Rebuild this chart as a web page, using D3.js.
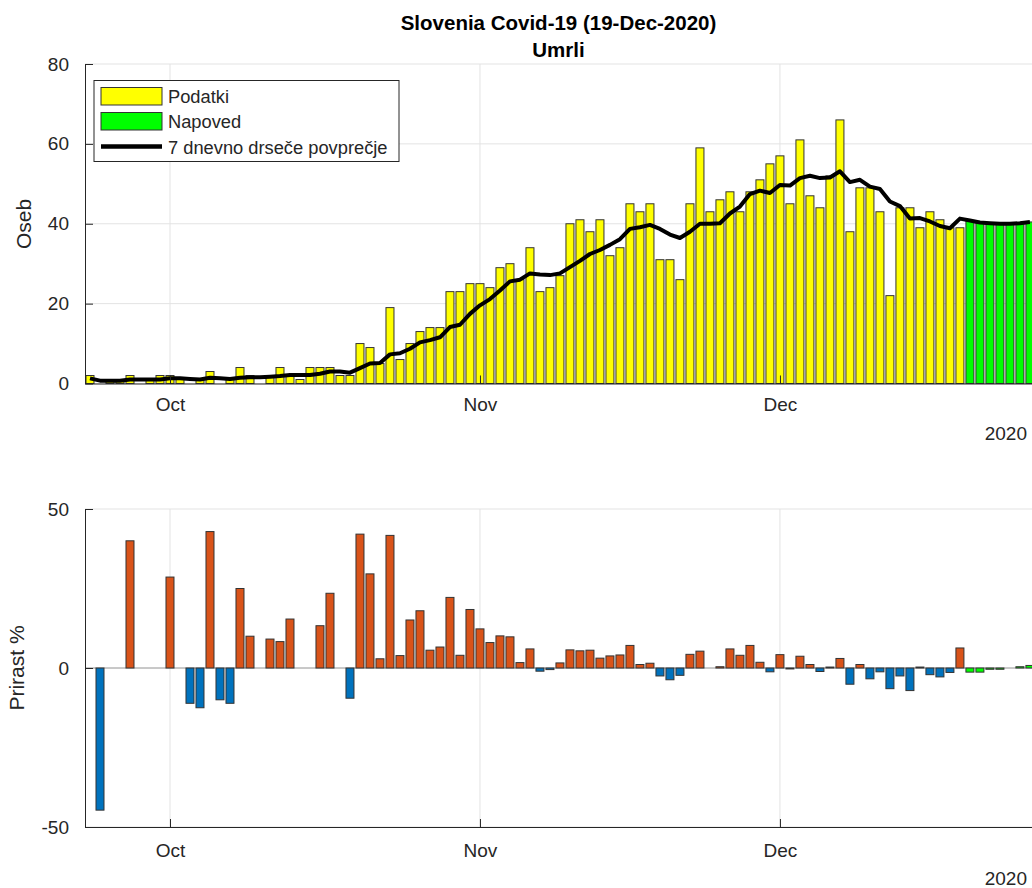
<!DOCTYPE html>
<html><head><meta charset="utf-8">
<script src="https://cdn.jsdelivr.net/npm/d3@7"></script>
<style>
body{margin:0;background:#fff}
svg{font-family:"Liberation Sans",Arial,Helvetica,sans-serif}
</style>
</head><body>
<svg id="c" width="1032" height="888"></svg>
<script>
// ---- data ----
const firstDay = Date.UTC(2020, 8, 23);           // 23-Sep-2020
const deaths = [2,0,1,1,2,0,1,2,2,1, 0,1,3,0,1,4,2,0,2,4, 2,1,4,4,4,2,2,10,9,5,
  19,6,10,13,14,14,23,23,25,25, 24,29,30,26,34,23,24,27,40,41, 38,41,32,34,45,43,45,31,31,26,
  45,59,43,46,48,43,48,51,55,57, 45,61,47,44,52,66,38,49,49,43, 22,44,44,39,43,41,39,39];
const forecast = [40.8,40.3,40.15,40.0,40.0,40.15,40.45];
const avg7 = [1.29,0.71,0.71,0.71,1.0,1.0,1.0,
  1.00,1.29,1.29,1.14,1.00,1.43,1.29,1.14,1.43,1.57,1.57,1.71,1.86,2.14,2.14,2.14,2.43,3.00,3.00,2.71,3.86,
  5.00,5.14,7.29,7.57,8.71,10.29,10.86,11.57,14.14,14.71,17.43,19.57,21.14,23.29,25.57,26.00,27.57,27.29,
  27.14,27.57,29.14,30.71,32.43,33.43,34.71,36.14,38.71,39.14,39.71,38.71,37.29,36.43,38.00,40.00,40.00,
  40.14,42.57,44.29,47.43,48.29,47.71,49.71,49.57,51.43,52.00,51.43,51.57,53.14,50.43,51.00,49.29,48.71,
  45.57,44.43,41.29,41.43,40.57,39.43,38.86,41.29,
  40.8,40.3,40.15,40.0,40.0,40.15,40.45];
const growth = [null,-44.7,0,0,40.0,0,0,0,28.6,0, -11.1,-12.5,42.9,-10.0,-11.1,25.0,10.0,0,9.1,8.3,
  15.4,0,0,13.3,23.5,0,-9.5,42.1,29.6,2.9, 41.7,3.9,15.1,18.0,5.6,6.6,22.2,4.0,18.4,12.3,
  8.0,10.1,9.8,1.7,6.0,-1.0,-0.5,1.6,5.7,5.4, 5.6,3.1,3.8,4.1,7.1,1.1,1.5,-2.5,-3.7,-2.3,
  4.3,5.3,0,0.4,6.0,4.0,7.1,1.8,-1.2,4.2, -0.3,3.7,1.1,-1.1,0.3,3.0,-5.1,1.1,-3.4,-1.2,
  -6.5,-2.5,-7.1,0.3,-2.1,-2.8,-1.4,6.3];
const growthForecast = [-1.3,-1.3,-0.4,-0.4,0,0.4,0.8];
const yTicksTop = [0,20,40,60,80];
const yTicksBot = [-50,0,50];
const monthTicks = [Date.UTC(2020,9,1), Date.UTC(2020,10,1), Date.UTC(2020,11,1)];
const legendLabels = ["Podatki","Napoved","7 dnevno drseče povprečje"];
const titleLines = ["Slovenia Covid-19 (19-Dec-2020)","Umrli"];

// ---- setup ----
const DAY = 864e5;
const dayAt = i => new Date(firstDay + i*DAY);
const svg = d3.select("#c");
const L = 85, R = 1032;
const x = d3.scaleUtc().domain([new Date(Date.UTC(2020,8,22,12)), new Date(Date.UTC(2020,11,26,5))]).range([L, R]);
const bw = x(dayAt(0.8)) - x(dayAt(0));
const yT = d3.scaleLinear().domain([0,80]).range([383.5,64]);
const yB = d3.scaleLinear().domain([-50,50]).range([827,509]);
const axCol = "#262626", gridCol = "#e3e3e3";
const tickFont = 19;
const plainFmt = d => String(d);

svg.append("defs").append("clipPath").attr("id","clipT").append("rect")
  .attr("x",L).attr("y",60).attr("width",R-L).attr("height",330);
svg.select("defs").append("clipPath").attr("id","clipB").append("rect")
  .attr("x",L).attr("y",505).attr("width",R-L).attr("height",325);

function grid(yScale, yticks, top, bottom){
  const g = svg.append("g");
  g.selectAll(".gy").data(yticks).join("line")
    .attr("x1",L).attr("x2",R).attr("y1",d=>yScale(d)).attr("y2",d=>yScale(d))
    .attr("stroke",gridCol).attr("stroke-width",1);
  g.selectAll(".gx").data(monthTicks).join("line")
    .attr("x1",d=>x(new Date(d))).attr("x2",d=>x(new Date(d))).attr("y1",top).attr("y2",bottom)
    .attr("stroke",gridCol).attr("stroke-width",1);
}
function axes(yScale, yticks, bottomY, xPad){
  const ya = svg.append("g").attr("transform",`translate(${L},0)`)
    .call(d3.axisLeft(yScale).tickValues(yticks).tickFormat(plainFmt).tickSize(-8).tickSizeOuter(0).tickPadding(16));
  const xa = svg.append("g").attr("transform",`translate(0,${bottomY})`)
    .call(d3.axisBottom(x).tickValues(monthTicks.map(d=>new Date(d))).tickFormat(d3.utcFormat("%b"))
      .tickSize(-8).tickSizeOuter(0).tickPadding(xPad));
  [ya,xa].forEach(a=>{
    a.selectAll("path").attr("stroke",axCol).attr("stroke-width",1);
    a.selectAll("line").attr("stroke",axCol);
    a.selectAll("text").attr("fill",axCol).style("font-size",tickFont+"px").style("font-family","inherit");
  });
}

// ---- top panel ----
grid(yT, yTicksTop, 64, 383.5);
const gT = svg.append("g").attr("clip-path","url(#clipT)");
gT.selectAll(".bd").data(deaths).join("rect")
  .attr("x",(d,i)=>x(dayAt(i))-bw/2).attr("width",bw)
  .attr("y",d=>yT(d)).attr("height",d=>yT(0)-yT(d))
  .attr("fill","#ffff00").attr("stroke","#333").attr("stroke-width",1);
gT.selectAll(".bf").data(forecast).join("rect")
  .attr("x",(d,i)=>x(dayAt(i+deaths.length))-bw/2).attr("width",bw)
  .attr("y",d=>yT(d)).attr("height",d=>yT(0)-yT(d))
  .attr("fill","#00ff00").attr("stroke","#333").attr("stroke-width",1);
gT.append("path").datum(avg7)
  .attr("d",d3.line().x((d,i)=>x(dayAt(i))).y(d=>yT(d)))
  .attr("fill","none").attr("stroke","#000").attr("stroke-width",4).attr("stroke-linejoin","round");
axes(yT, yTicksTop, 383.5, 14);
svg.append("text").attr("x",1027).attr("y",440).attr("text-anchor","end")
  .attr("fill",axCol).style("font-size",tickFont+"px").text("2020");
svg.append("text").attr("transform","translate(31,224) rotate(-90)").attr("text-anchor","middle")
  .attr("fill",axCol).style("font-size","21px").text("Oseb");

// legend
const lg = svg.append("g");
lg.append("rect").attr("x",94).attr("y",80.5).attr("width",305).attr("height",81)
  .attr("fill","#fff").attr("stroke",axCol).attr("stroke-width",1);
const swatch = [["#ffff00",87.5],["#00ff00",112.5]];
swatch.forEach(([c,yy])=>{
  lg.append("rect").attr("x",101).attr("y",yy).attr("width",61).attr("height",17.5)
    .attr("fill",c).attr("stroke","#333").attr("stroke-width",1);
});
lg.append("line").attr("x1",101).attr("x2",162).attr("y1",146.5).attr("y2",146.5)
  .attr("stroke","#000").attr("stroke-width",4.5);
legendLabels.forEach((t,k)=>{
  lg.append("text").attr("x",168).attr("y",103+k*25.3).attr("fill",axCol)
    .style("font-size","18.3px").text(t);
});

// ---- bottom panel ----
grid(yB, yTicksBot, 509, 827);
const gB = svg.append("g").attr("clip-path","url(#clipB)");
gB.append("line").attr("x1",L).attr("x2",R).attr("y1",yB(0)).attr("y2",yB(0))
  .attr("stroke","#a0a0a0").attr("stroke-width",1);
const gdata = growth.map((v,i)=>({i,v,f:false}))
  .concat(growthForecast.map((v,k)=>({i:k+growth.length,v,f:true})))
  .filter(d=>d.v!==null && d.v!==0);
gB.selectAll(".bg").data(gdata).join("rect")
  .attr("x",d=>x(dayAt(d.i))-bw/2).attr("width",bw)
  .attr("y",d=>yB(Math.max(d.v,0))).attr("height",d=>Math.abs(yB(d.v)-yB(0)))
  .attr("fill",d=>d.f?"#00ff00":(d.v>0?"#d95319":"#0072bd"))
  .attr("stroke","#333").attr("stroke-width",1);
axes(yB, yTicksBot, 827, 17);
svg.append("text").attr("x",1027).attr("y",885).attr("text-anchor","end")
  .attr("fill",axCol).style("font-size",tickFont+"px").text("2020");
svg.append("text").attr("transform","translate(24,668) rotate(-90)").attr("text-anchor","middle")
  .attr("fill",axCol).style("font-size","21px").text("Prirast %");

// ---- title ----
titleLines.forEach((t,k)=>{
  svg.append("text").attr("x",(L+R)/2).attr("y",30+k*26.5).attr("text-anchor","middle")
    .attr("fill","#000").style("font-size","20.5px").style("font-weight","bold").text(t);
});
</script>
</body></html>
